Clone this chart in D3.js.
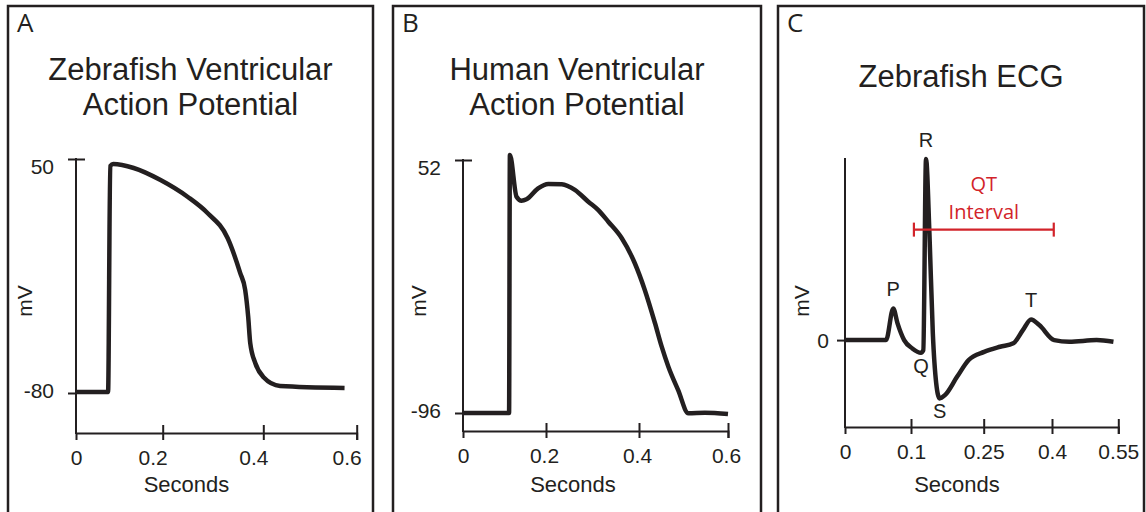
<!DOCTYPE html>
<html>
<head>
<meta charset="utf-8">
<script src="https://cdn.jsdelivr.net/npm/d3@7"></script>
<style>
  body { margin: 0; background: #fff; }
  text { font-family: "Liberation Sans", Arial, Helvetica, sans-serif; fill: #231f20; }
</style>
</head>
<body>
<script>
// ---- data ----
// A: zebrafish ventricular action potential (s, mV)
var zfTime = [0, 0.074, 0.079, 0.086, 0.133, 0.195, 0.25, 0.289, 0.329, 0.354, 0.364, 0.370, 0.374, 0.384, 0.4, 0.436, 0.574];
var zfMv   = [-79.5, -79.5, 46.1, 47.2, 45, 38.3, 28.9, 20, 6.1, -13.3, -22.8, -37.8, -52.2, -63.3, -71.1, -76.1, -77.2];
var zfXTicks = [0, 0.2, 0.4, 0.6];
var zfYTicks = [-80, 50];

// B: human ventricular action potential (s, mV)
var humTime = [0, 0.111, 0.113, 0.129, 0.141, 0.153, 0.181, 0.205, 0.234, 0.262, 0.291, 0.312, 0.334, 0.363, 0.391, 0.413, 0.436, 0.451, 0.466, 0.488, 0.511, 0.548, 0.6];
var humMv   = [-96, -96, 54.9, 30.5, 28.2, 29, 35.4, 38, 37.8, 34.5, 27.6, 22.8, 15.9, 6.2, -8.4, -24, -43.5, -57.2, -68.9, -82.6, -96.2, -95.8, -96.6];
var humXTicks = [0, 0.2, 0.4, 0.6];
var humYTicks = [-96, 52];

// C: zebrafish ECG (s, relative mV)
var ecgTime = [0, 0.0622, 0.0731, 0.0796, 0.0896, 0.1027, 0.1205, 0.1254, 0.131, 0.138, 0.145, 0.152, 0.159, 0.170, 0.195, 0.219, 0.251, 0.286, 0.315, 0.336, 0.354, 0.372, 0.405, 0.439, 0.501, 0.539];
var ecgMv   = [0, 0, 0.175, 0.092, 0, -0.046, -0.070, -0.055, 1.0, 0.591, 0.039, -0.238, -0.322, -0.304, -0.203, -0.110, -0.065, -0.037, -0.018, 0.055, 0.114, 0.083, 0, -0.009, 0, -0.009];
var ecgXTicks = [0, 0.1, 0.25, 0.4, 0.55];
var ecgYTicks = [0];
var ecgYExtent = [-0.48, 1.0];
var waveNames = ["P", "Q", "R", "S", "T"];
var waveTime  = [0.0731, 0.1205, 0.131, 0.159, 0.354];
var waveMv    = [0.175, -0.070, 1.0, -0.322, 0.114];
var qtInterval = [0.106, 0.404];
var qtLevel = 0.61;

var W = 1146, H = 512;
var ink = "#231f20", red = "#d2232a";

var svg = d3.select("body").append("svg")
  .attr("width", W).attr("height", H);

var panels = [
  { letter: "A", left: 8, right: 373, title: ["Zebrafish Ventricular", "Action Potential"], titleY: [80, 115],
    time: zfTime, mv: zfMv, xTicks: zfXTicks, yTicks: zfYTicks, yDomain: [-80, 50],
    xRange: [76, 162.7, 263.3, 356.7], yRange: [393, 159], axisY: 433, capTop: true,
    labelGap: 22, mvDx: -51, xLabelShift: -10 },
  { letter: "B", left: 393, right: 761, title: ["Human Ventricular", "Action Potential"], titleY: [80, 115],
    time: humTime, mv: humMv, xTicks: humXTicks, yTicks: humYTicks, yDomain: [-96, 52],
    xRange: [463, 546, 639, 728], yRange: [413, 160], axisY: 431, capTop: true,
    labelGap: 22, mvDx: -44, xLabelShift: -2 },
  { letter: "C", left: 778, right: 1144, title: ["Zebrafish ECG"], titleY: [87],
    time: ecgTime, mv: ecgMv, xTicks: ecgXTicks, yTicks: ecgYTicks, yDomain: ecgYExtent,
    xRange: [845, 911, 983.7, 1052, 1118.3], yRange: [427, 159], axisY: 427, capTop: false,
    labelGap: 16, mvDx: -43, xLabelShift: 0 }
];

panels.forEach(function(p) {
  var g = svg.append("g");
  var cx = (p.left + p.right) / 2;

  // frame (open at the bottom, runs off the image)
  g.append("rect")
    .attr("x", p.left).attr("y", 6)
    .attr("width", p.right - p.left).attr("height", H + 20)
    .attr("fill", "none").attr("stroke", ink).attr("stroke-width", 2.5);

  g.append("text")
    .attr("x", p.left + 9).attr("y", 32)
    .style("font-family", "'Open Sans', sans-serif")
    .style("font-size", "26px")
    .text(p.letter);

  p.title.forEach(function(t, i) {
    g.append("text")
      .attr("x", cx).attr("y", p.titleY[i])
      .attr("text-anchor", "middle")
      .style("font-size", "31px")
      .text(t);
  });

  var x = d3.scaleLinear().domain(p.xTicks).range(p.xRange);
  var y = d3.scaleLinear().domain(p.yDomain).range(p.yRange);
  var x0 = p.xRange[0];

  // x axis
  var xAxis = d3.axisBottom(x).tickValues(p.xTicks).tickSizeOuter(0).tickSize(7)
    .tickFormat(function(d) { return String(d); });
  var gx = g.append("g")
    .attr("transform", "translate(0," + p.axisY + ")")
    .call(xAxis);
  gx.attr("font-family", null).attr("font-size", null);
  gx.select(".domain").attr("stroke", ink).attr("stroke-width", 2);
  gx.selectAll(".tick line")
    .attr("stroke", ink).attr("stroke-width", 2)
    .attr("y1", -8).attr("y2", 7)
    .style("display", function(d) { return d === 0 ? "none" : null; });
  gx.selectAll(".tick text")
    .attr("y", 32).attr("dy", null)
    .attr("dx", function(d) { return d === 0 ? 0 : p.xLabelShift; })
    .style("font-size", "21px")
    .attr("fill", ink);

  // y axis: line from top of range down to x axis
  var yTop = y(p.yDomain[1]);
  g.append("line")
    .attr("x1", x0).attr("x2", x0)
    .attr("y1", yTop - 1).attr("y2", p.axisY + 1)
    .attr("stroke", ink).attr("stroke-width", 2);

  var yMin = d3.min(p.yTicks), yMax = d3.max(p.yTicks);
  var yAxis = d3.axisLeft(y).tickValues(p.yTicks).tickSize(8)
    .tickFormat(function(d) { return String(d); });
  var gy = g.append("g")
    .attr("transform", "translate(" + x0 + ",0)")
    .call(yAxis);
  gy.select(".domain").remove();
  gy.attr("font-family", null).attr("font-size", null);
  gy.selectAll(".tick line")
    .attr("stroke", ink).attr("stroke-width", 2)
    .attr("x2", function(d) { return (p.capTop && d === yMax) ? 9 : 0; })
    .attr("x1", -8);
  gy.selectAll(".tick text")
    .attr("x", -p.labelGap)
    .attr("dy", function(d) {
      if (p.yTicks.length > 1 && d === yMax) return 14;
      if (p.yTicks.length > 1 && d === yMin) return 4;
      return 7;
    })
    .style("font-size", "21px")
    .attr("fill", ink);

  // axis titles
  g.append("text")
    .attr("transform", "translate(" + (x0 + p.mvDx) + "," + 301 + ") rotate(-90)")
    .attr("text-anchor", "middle")
    .attr("dy", "0.35em")
    .style("font-size", "21px")
    .text("mV");
  g.append("text")
    .attr("x", cx - 4).attr("y", 492)
    .attr("text-anchor", "middle")
    .style("font-size", "22px")
    .text("Seconds");

  // trace
  var pts = p.time.map(function(t, i) { return [t, p.mv[i]]; });
  var line = d3.line()
    .x(function(d) { return x(d[0]); })
    .y(function(d) { return y(d[1]); })
    .curve(d3.curveMonotoneX);
  g.append("path")
    .datum(pts)
    .attr("d", line)
    .attr("fill", "none")
    .attr("stroke", ink)
    .attr("stroke-width", 4.5)
    .attr("stroke-linejoin", "round")
    .attr("stroke-linecap", "butt");

  p.x = x; p.y = y; p.g = g;
});

// ECG annotations
var c = panels[2];
var waves = waveNames.map(function(n, i) { return { name: n, t: waveTime[i], v: waveMv[i] }; });
c.g.selectAll("text.wave")
  .data(waves)
  .enter().append("text")
  .attr("class", "wave")
  .attr("x", function(d) { return c.x(d.t); })
  .attr("y", function(d) { return c.y(d.v) + (d.v >= 0 ? -12 : 20); })
  .attr("text-anchor", "middle")
  .style("font-size", "20px")
  .text(function(d) { return d.name; });

var qx1 = c.x(qtInterval[0]), qx2 = c.x(qtInterval[1]), qy = c.y(qtLevel);
var qt = c.g.append("g").attr("stroke", red).attr("stroke-width", 2.2);
qt.append("line").attr("x1", qx1).attr("x2", qx2).attr("y1", qy).attr("y2", qy);
qt.append("line").attr("x1", qx1).attr("x2", qx1).attr("y1", qy - 7).attr("y2", qy + 7);
qt.append("line").attr("x1", qx2).attr("x2", qx2).attr("y1", qy - 7).attr("y2", qy + 7);
["QT", "Interval"].forEach(function(t, i) {
  c.g.append("text")
    .attr("x", (qx1 + qx2) / 2)
    .attr("y", qy - 38.5 + i * 27.5)
    .attr("text-anchor", "middle")
    .style("font-family", "'Open Sans', sans-serif")
    .style("font-size", "20px")
    .style("fill", red)
    .text(t);
});
</script>
</body>
</html>
